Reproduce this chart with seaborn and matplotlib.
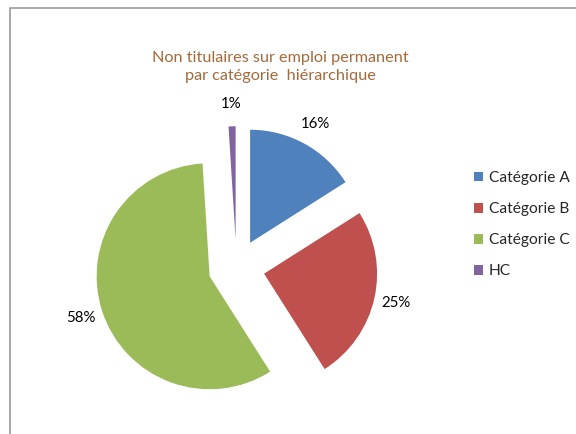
import matplotlib
matplotlib.use("Agg")
import matplotlib.pyplot as plt
import seaborn as sns
from matplotlib.patches import Patch, Rectangle

# data
categories = ["Catégorie A", "Catégorie B", "Catégorie C", "HC"]
shares = [16, 25, 58, 1]
colors = ["#4F81BD", "#C0504D", "#9BBB59", "#8064A2"]
title = "Non titulaires sur emploi permanent\npar catégorie  hiérarchique"

sns.set_theme(style="white")
plt.rcParams["font.family"] = ["Lato", "DejaVu Sans"]
palette = sns.color_palette(colors)

fig = plt.figure(figsize=(5.76, 4.34), dpi=100)

# axes placed so that the pie centre sits where Excel put it
W, H = 576, 434
cx, cy, half, rad = 236.5, 267.5, 160, 113
ax = fig.add_axes([(cx - half) / W, (H - cy - half) / H, 2 * half / W, 2 * half / H])

wedges, texts, autotexts = ax.pie(
    shares,
    colors=palette,
    startangle=90,
    counterclock=False,
    explode=[0.25] * len(shares),
    autopct="%1.0f%%",
    pctdistance=1.2,
    textprops={"fontsize": 10.8, "color": "black"},
    wedgeprops={"linewidth": 0},
)
lim = half / rad
ax.set_xlim(-lim, lim)
ax.set_ylim(-lim, lim)
ax.set_axis_off()

fig.text(280 / W, 1 - 67 / H, title, ha="center", va="center",
         fontsize=11.7, color="#A5693A", linespacing=1.3)

handles = [Patch(facecolor=c, edgecolor="none") for c in palette]
fig.legend(handles, categories, loc="upper left",
           bbox_to_anchor=(460 / W, 1 - 157 / H), frameon=False,
           fontsize=11.2, handlelength=0.6, handleheight=0.6,
           handletextpad=0.35, labelspacing=1.1)

# chart frame (only left and top edges are visible)
fig.patches.append(Rectangle((10 / W, -0.1), 1.2, 1 - 8 / H + 0.1,
                             transform=fig.transFigure, fill=False,
                             edgecolor="#9A9A9A", linewidth=1.2))

fig.savefig("out.png", dpi=100)
